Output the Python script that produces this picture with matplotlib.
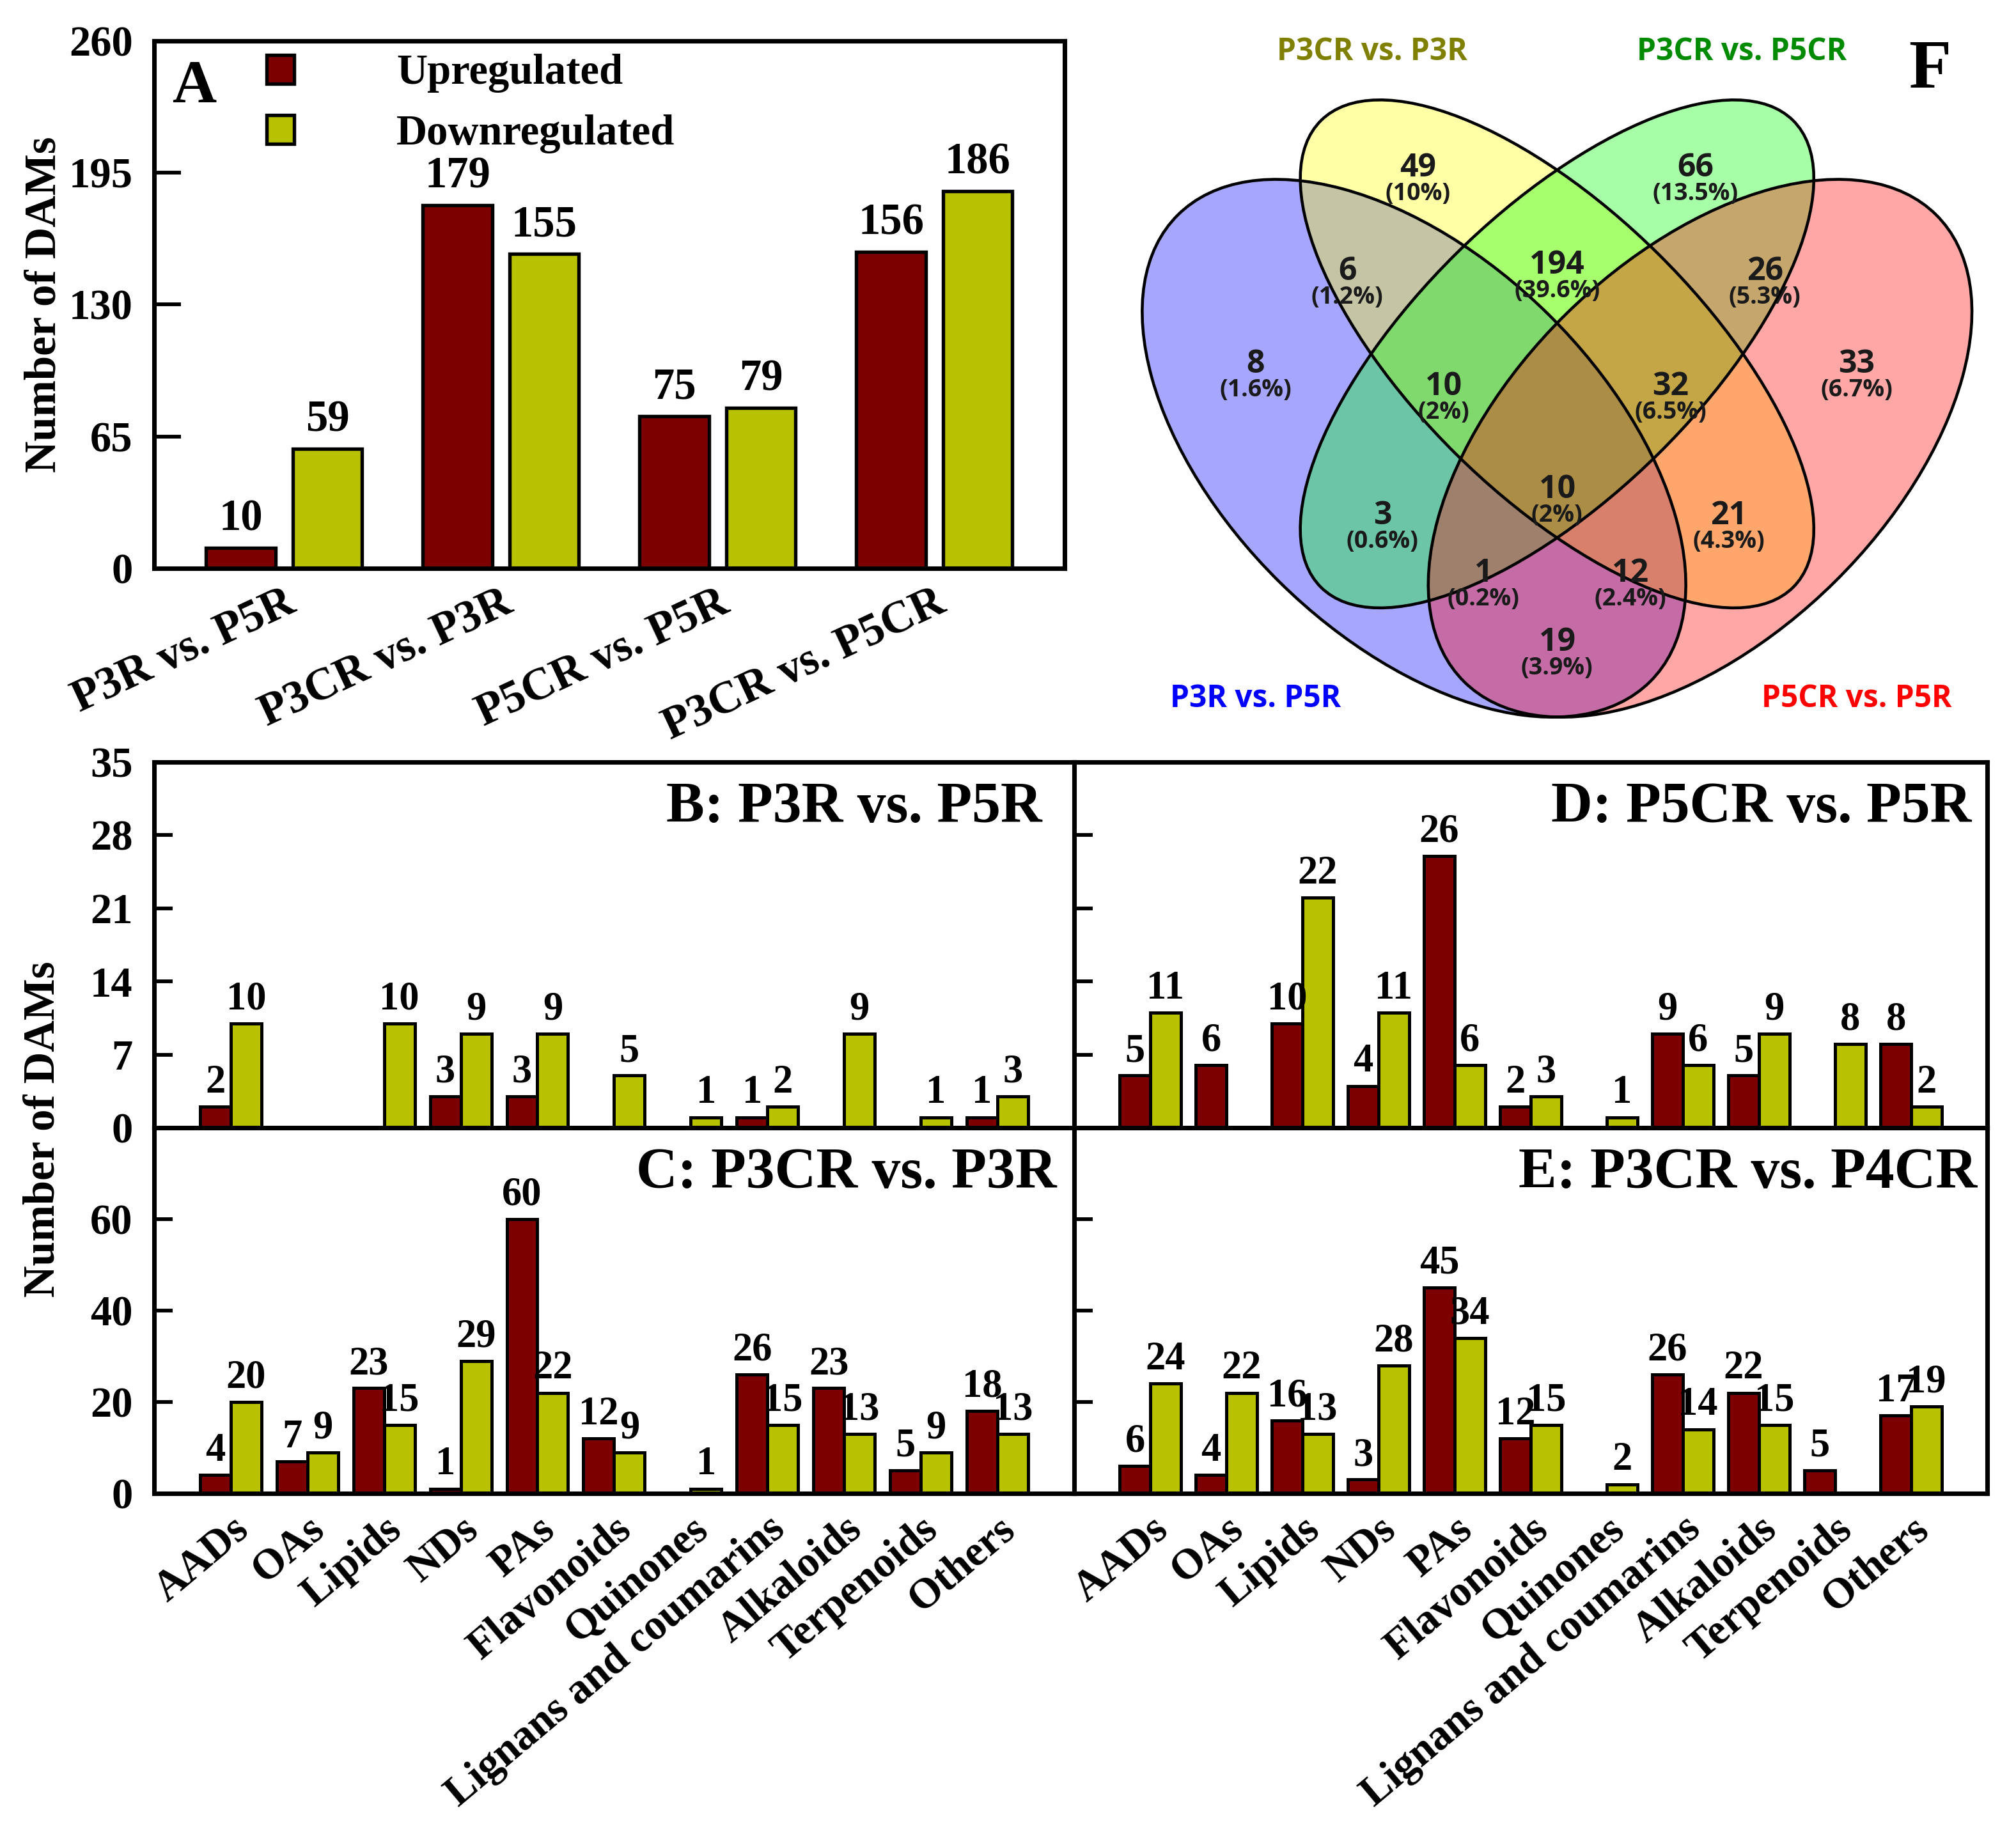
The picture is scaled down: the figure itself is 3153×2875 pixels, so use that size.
import numpy as np
import matplotlib
matplotlib.use('Agg')
import matplotlib.pyplot as plt
from matplotlib.patches import Ellipse

# panel A: number of DAMs per comparison
comparisons = ['P3R vs. P5R', 'P3CR vs. P3R', 'P5CR vs. P5R', 'P3CR vs. P5CR']
total_up = [10, 179, 75, 156]
total_down = [59, 155, 79, 186]

# panels B-E: DAMs per compound class
classes = ['AADs', 'OAs', 'Lipids', 'NDs', 'PAs', 'Flavonoids', 'Quinones',
           'Lignans and coumarins', 'Alkaloids', 'Terpenoids', 'Others']
b_up = [2, 0, 0, 3, 3, 0, 0, 1, 0, 0, 1]
b_down = [10, 0, 10, 9, 9, 5, 1, 2, 9, 1, 3]
c_up = [4, 7, 23, 1, 60, 12, 0, 26, 23, 5, 18]
c_down = [20, 9, 15, 29, 22, 9, 1, 15, 13, 9, 13]
d_up = [5, 6, 10, 4, 26, 2, 0, 9, 5, 0, 8]
d_down = [11, 0, 22, 11, 6, 3, 1, 6, 9, 8, 2]
e_up = [6, 4, 16, 3, 45, 12, 0, 26, 22, 5, 17]
e_down = [24, 22, 13, 28, 34, 15, 2, 14, 15, 0, 19]

# panel F: venn diagram, membership order = (P3R vs. P5R, P3CR vs. P3R, P3CR vs. P5CR, P5CR vs. P5R)
venn_sets = ['P3R vs. P5R', 'P3CR vs. P3R', 'P3CR vs. P5CR', 'P5CR vs. P5R']
venn_regions = ['1000', '0100', '0010', '0001', '1100', '0110', '0011', '1010',
                '0101', '1001', '1110', '0111', '1011', '1101', '1111']
venn_counts = [8, 49, 66, 33, 6, 194, 26, 3, 21, 19, 10, 32, 1, 12, 10]

# layout / styles
RED = '#7d0000'
GREEN = '#b8c200'
SERIF = 'Liberation Serif'
SANS = 'Open Sans'

plt.rcParams['font.family'] = SERIF
plt.rcParams['font.weight'] = 'bold'
plt.rcParams['axes.linewidth'] = 1.7

fig = plt.figure(figsize=(3153 / 300, 2875 / 300), dpi=300)


def style_axes(ax, tick_len):
    ax.tick_params(axis='y', direction='in', length=tick_len, width=1.4, pad=8, labelsize=16)
    ax.tick_params(axis='x', length=0)
    for s in ax.spines.values():
        s.set_linewidth(1.7)


# ---------------- panel A ----------------
axA = fig.add_axes([0.0764, 0.6908, 0.4516, 0.2870])
xa = np.arange(len(comparisons))
bars_up = axA.bar(xa - 0.2, total_up, 0.32, color=RED, edgecolor='black', linewidth=1.3, label='Upregulated')
bars_dn = axA.bar(xa + 0.2, total_down, 0.32, color=GREEN, edgecolor='black', linewidth=1.3, label='Downregulated')
axA.bar_label(bars_up, padding=3, fontsize=16.5)
axA.bar_label(bars_dn, padding=3, fontsize=16.5)
axA.set_xlim(-0.6, 3.6)
axA.set_ylim(0, 260)
axA.set_yticks([0, 65, 130, 195, 260])
axA.set_xticks(xa)
axA.set_xticklabels(comparisons, rotation=25, ha='right', va='top', rotation_mode='anchor', fontsize=17)
style_axes(axA, 10)
axA.tick_params(axis='x', pad=5)
axA.text(0.02, 0.8836, 'A', transform=axA.transAxes, fontsize=23, va='baseline', ha='left')
axA.legend(loc='upper left', bbox_to_anchor=(0.1236, 0.975), frameon=False, fontsize=16,
           handlelength=0.65, handleheight=0.66, handletextpad=2.4, labelspacing=0.5,
           borderpad=0, borderaxespad=0)
fig.text(0.0222, 0.8344, 'Number of DAMs', rotation=90, ha='center', va='center', fontsize=16.5)


# ---------------- panels B-E ----------------
def class_panel(rect, up, down, ymax, yticks, ticklabels, title, title_x, bottom_labels):
    ax = fig.add_axes(rect)
    x = np.arange(len(classes))
    r1 = ax.bar(x - 0.2, up, 0.4, color=RED, edgecolor='black', linewidth=1.2)
    r2 = ax.bar(x + 0.2, down, 0.4, color=GREEN, edgecolor='black', linewidth=1.2)
    ax.bar_label(r1, labels=[str(v) if v else '' for v in up], padding=2, fontsize=15)
    ax.bar_label(r2, labels=[str(v) if v else '' for v in down], padding=2, fontsize=15)
    ax.set_xlim(-1, len(classes))
    ax.set_ylim(0, ymax)
    ax.set_yticks(yticks)
    style_axes(ax, 7)
    if not ticklabels:
        ax.set_yticklabels([])
    ax.set_xticks(x)
    if bottom_labels:
        ax.set_xticklabels(classes, rotation=40, ha='right', va='top', rotation_mode='anchor', fontsize=16)
        ax.tick_params(axis='x', pad=6)
    else:
        ax.set_xticklabels([])
    ax.text(title_x, 0.835, title, transform=ax.transAxes, ha='right', va='baseline', fontsize=21.5)
    return ax


class_panel([0.0764, 0.3864, 0.4564, 0.1990], b_up, b_down, 35, range(0, 36, 7), True,
            'B: P3R vs. P5R', 0.965, False)
class_panel([0.0764, 0.1875, 0.4564, 0.1990], c_up, c_down, 80, [0, 20, 40, 60], True,
            'C: P3CR vs. P3R', 0.981, True)
class_panel([0.5328, 0.3864, 0.4529, 0.1990], d_up, d_down, 35, range(0, 36, 7), False,
            'D: P5CR vs. P5R', 0.983, False)
class_panel([0.5328, 0.1875, 0.4529, 0.1990], e_up, e_down, 80, [0, 20, 40, 60], False,
            'E: P3CR vs. P4CR', 0.989, True)
fig.text(0.0213, 0.3857, 'Number of DAMs', rotation=90, ha='center', va='center', fontsize=16.5)

# ---------------- panel F ----------------
axF = fig.add_axes([0.5453, 0.5919, 0.4541, 0.4003])
axF.set_xlim(0.02, 0.98)
axF.set_ylim(0.15, 0.93)
axF.axis('off')

# ellipse geometry (centre, width, height, angle) and colours per set
ell_geom = [((0.35, 0.47), 0.70, 0.40, 135),
            ((0.50, 0.57), 0.70, 0.30, 135),
            ((0.50, 0.57), 0.70, 0.30, 45),
            ((0.65, 0.47), 0.70, 0.40, 45)]
ell_fill = ['#0000ff', '#ffff00', '#00ff00', '#ff0000']
for (c, w, h, ang), col in zip(ell_geom, ell_fill):
    axF.add_patch(Ellipse(c, w, h, angle=ang, facecolor=col, alpha=0.35, edgecolor='none'))
for (c, w, h, ang) in ell_geom:
    axF.add_patch(Ellipse(c, w, h, angle=ang, facecolor='none', edgecolor='black', linewidth=1.1))

region_pos = {'1000': (0.184, 0.547), '0100': (0.354, 0.755), '0010': (0.645, 0.755),
              '0001': (0.814, 0.547), '1100': (0.280, 0.645), '0110': (0.500, 0.652),
              '0011': (0.718, 0.645), '1010': (0.317, 0.386), '0101': (0.680, 0.386),
              '1001': (0.500, 0.252), '1110': (0.381, 0.523), '0111': (0.619, 0.523),
              '1011': (0.423, 0.325), '1101': (0.577, 0.325), '1111': (0.500, 0.414)}
total = sum(venn_counts)
for reg, n in zip(venn_regions, venn_counts):
    px, py = region_pos[reg]
    pct = '{:.1f}'.format(100.0 * n / total).rstrip('0').rstrip('.')
    axF.text(px, py + 0.012, str(n), ha='center', va='center', fontsize=12,
             family=SANS, weight='bold', color='#1a1a1a')
    axF.text(px, py - 0.015, '({}%)'.format(pct), ha='center', va='center', fontsize=9,
             family=SANS, weight='bold', color='#1a1a1a')

set_label_pos = [(0.184, 0.204), (0.306, 0.890), (0.694, 0.890), (0.814, 0.204)]
set_label_col = ['#0000ff', '#808000', '#008a00', '#ff0000']
for name, (px, py), col in zip(venn_sets, set_label_pos, set_label_col):
    axF.text(px, py, name, ha='center', va='center', fontsize=11.5, family=SANS,
             weight='bold', color=col)

fig.text(0.9467, 0.9523, 'F', ha='left', va='baseline', fontsize=26)

fig.savefig('out.png', dpi=300)
